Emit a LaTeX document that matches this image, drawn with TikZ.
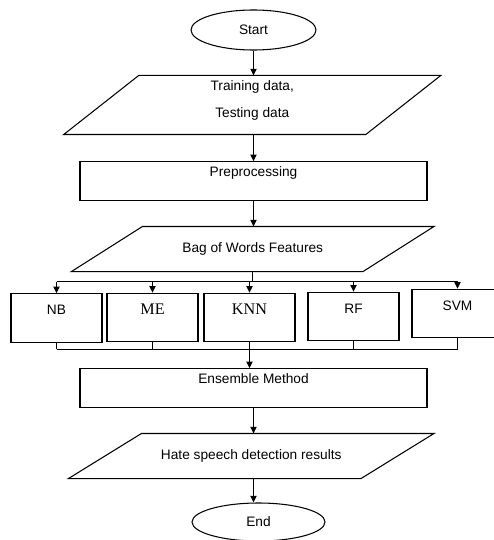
\documentclass[tikz,border=0pt]{standalone}
\usepackage{xcolor}
\usepackage{fontspec}
\setmainfont{Liberation Sans}
\newfontfamily\timesfont{Liberation Serif}
\usetikzlibrary{arrows.meta,shapes.geometric}

% slanted outline round an io node
\newcommand{\ioslant}[2]{\draw ([xshift=#2]#1.north west) -- ([xshift=#2]#1.north east) -- ([xshift=-#2]#1.south east) -- ([xshift=-#2]#1.south west) -- cycle;}

\begin{document}
\begin{tikzpicture}[line width=0.6pt,
  >={Triangle[length=3.8pt,width=3.6pt]},
  every node/.style={font=\fontsize{7.8}{9.4}\selectfont},
  terminal/.style={draw,ellipse,inner sep=0pt},
  iobox/.style={rectangle,inner sep=0pt,align=center},
  procbox/.style={draw,rectangle,minimum width=6.94cm,inner sep=0pt,text height=0.29cm,text depth=0.48cm},
  classbox/.style={draw,rectangle,minimum width=1.82cm,inner sep=0pt,text height=0.42cm,text depth=0.55cm},
  classserif/.style={classbox,font=\timesfont\fontsize{9.2}{11}\selectfont}]

\useasboundingbox (0,0) rectangle (9.86,-10.8);

% 1
\node[terminal,minimum width=2.5cm,minimum height=0.8cm] (StepStart) at (5.07,-0.60) {Start};

\node[iobox,minimum width=6.02cm,minimum height=1.16cm,text height=0.84cm,text depth=0.32cm] (StepData) at (5.045,-2.10) {Training data,\\[6pt]Testing data};
\ioslant{StepData}{0.75cm}

\node[procbox] (StepPre) at (5.07,-3.62) {Preprocessing};

\node[iobox,minimum width=5.81cm,minimum height=0.88cm] (StepBow) at (5.055,-4.98) {Bag of Words Features};
\ioslant{StepBow}{0.71cm}


% 2
\node[classbox] (ClassNB) at (1.13,-6.36) {NB};
\node[classserif] (ClassME) at (3.05,-6.35) {ME};
\node[classserif] (ClassKNN) at (4.99,-6.35) {KNN};
\node[classbox] (ClassRF) at (7.07,-6.33) {RF};
\node[classbox] (ClassSVM) at (9.15,-6.27) {SVM};


% 3
\node[procbox] (StepEnsemble) at (5.07,-7.76) {Ensemble Method};

\node[iobox,minimum width=5.83cm,minimum height=0.88cm] (StepResults) at (5.025,-9.12) {Hate speech detection results};
\ioslant{StepResults}{0.73cm}

\node[terminal,minimum width=2.66cm,minimum height=0.76cm] (StepEnd) at (5.17,-10.44) {End};


\draw[->] (StepStart.south) -- (StepStart.south |- StepData.north);
\draw[->] (StepPre.north |- StepData.south) -- (StepPre.north);
\draw[->] (StepPre.south) -- (StepPre.south |- StepBow.north);

% fan out to the classifiers
\draw (StepBow.south) -- ++(0,-0.2) coordinate (BusTop);
\draw (ClassNB.north |- BusTop) -- (ClassSVM.north |- BusTop);
\foreach \c in {ClassNB,ClassME,ClassKNN,ClassRF,ClassSVM}
  \draw[->] (\c.north |- BusTop) -- (\c.north);

% collect again
\path (ClassKNN.south) ++(0,-0.14) coordinate (BusLow);
\foreach \c in {ClassNB,ClassME,ClassRF,ClassSVM}
  \draw (\c.south) -- (\c.south |- BusLow);
\draw (ClassNB.south |- BusLow) -- (ClassSVM.south |- BusLow);
\draw[->] (ClassKNN.south) -- (ClassKNN.south |- StepEnsemble.north);

\draw[->] (StepEnsemble.south) -- (StepEnsemble.south |- StepResults.north);
\draw[->] (StepEnsemble.south |- StepResults.south) -- (StepEnsemble.south |- StepEnd.north);

\end{tikzpicture}
\end{document}
